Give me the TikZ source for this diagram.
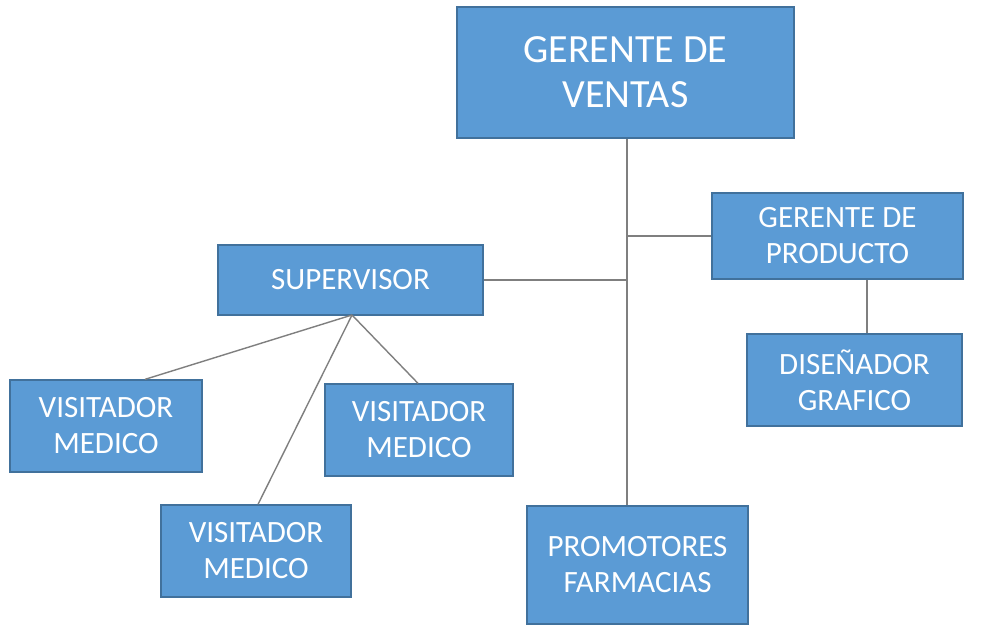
\documentclass[tikz,border=0pt]{standalone}
\usepackage{fontspec}
\setmainfont{Carlito}
\definecolor{boxfill}{HTML}{5B9BD5}
\definecolor{boxline}{HTML}{41719C}
\definecolor{conn}{HTML}{7F7F7F}
\begin{document}
\begin{tikzpicture}[x=1pt,y=-1pt,
  orgbox/.style={draw=boxline,fill=boxfill,line width=1.3pt,text=white,align=center,inner sep=0pt,
    font={\fontsize{31}{36}\selectfont}},
  bigbox/.style={orgbox,font={\fontsize{40}{45}\selectfont}},
  link/.style={draw=conn,line width=1.4pt}]
\useasboundingbox (0,0) rectangle (1006,628);
\fill[white] (0,0) rectangle (1006,628);
\node[bigbox,minimum width=337pt,minimum height=131pt] (gdv) at (625.5,72.5) {GERENTE DE\\VENTAS};
\node[orgbox,minimum width=251pt,minimum height=86pt] (gdp) at (837.5,236) {GERENTE DE\\PRODUCTO};
\node[orgbox,minimum width=215pt,minimum height=92pt] (dg) at (854.5,380) {DISEÑADOR\\GRAFICO};
\node[orgbox,minimum width=265pt,minimum height=70pt] (sup) at (350.5,280) {SUPERVISOR};
\node[orgbox,minimum width=192pt,minimum height=92pt] (vm1) at (106,426) {VISITADOR\\MEDICO};
\node[orgbox,minimum width=188pt,minimum height=92pt] (vm2) at (419,430) {VISITADOR\\MEDICO};
\node[orgbox,minimum width=190pt,minimum height=92pt] (vm3) at (256,551) {VISITADOR\\MEDICO};
\node[orgbox,minimum width=221pt,minimum height=118pt] (pf) at (637.5,565) {PROMOTORES\\FARMACIAS};
\coordinate (trunktop) at (gdv.south -| 627,0);
\coordinate (trunkbot) at (pf.north -| 627,0);
\coordinate (s) at (352,315);
\draw[link] (trunktop) -- (trunkbot);
\draw[link] (gdp.west) -- (gdp.west -| trunktop);
\draw[link] (sup.east) -- (sup.east -| trunktop);
\draw[link] (gdp.south -| 867,0) -- (dg.north -| 867,0);
\draw[link] (s) -- (vm1.north -| 145,0);
\draw[link] (s) -- (vm2.north -| 418,0);
\draw[link] (s) -- (vm3.north -| 258,0);
\end{tikzpicture}
\end{document}
